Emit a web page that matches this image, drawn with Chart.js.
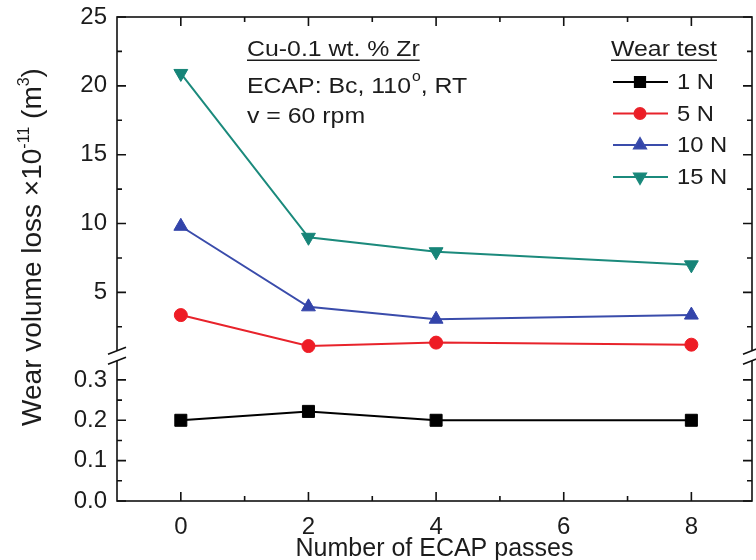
<!DOCTYPE html>
<html lang="en">
<head>
<meta charset="UTF-8" />
<title>Wear volume loss vs ECAP passes</title>
<script src="https://cdn.jsdelivr.net/npm/chart.js"></script>
<style>
  html, body { margin: 0; padding: 0; background: #fff; }
  #wrap { width: 756px; height: 560px; }
</style>
</head>
<body>
<div id="wrap"><canvas id="wearChart" width="756" height="560"></canvas></div>
<script>
// values (y in units of 1e-11 m^3)
const passes = [0, 2, 4, 8];
const load1N = [0.2, 0.222, 0.2, 0.2];
const load5N = [3.35, 1.1, 1.35, 1.2];
const load10N = [9.8, 3.95, 3.05, 3.35];
const load15N = [20.9, 9.0, 7.95, 7.0];
const seriesLabels = ["1 N", "5 N", "10 N", "15 N"];

const xTicks = [0, 2, 4, 6, 8];
const xMinor = [1, 3, 5, 7];
const yHighTicks = [5, 10, 15, 20, 25];
const yHighMinor = [2.5, 7.5, 12.5, 17.5, 22.5];
const yLowTicks = [0, 0.1, 0.2, 0.3];
const yLowMinor = [0.05, 0.15, 0.25];

const FONT = '"Liberation Sans", Arial, sans-serif';
const INK = "#1c1c1c";
const STRETCH = 1.13;

function pts(ys) {
  return passes.map((x, i) => ({ x: x, y: ys[i] }));
}

function wideText(ctx, text, x, y, sx) {
  ctx.save();
  ctx.translate(x, y);
  ctx.scale(sx, 1);
  ctx.fillText(text, 0, 0);
  ctx.restore();
  return ctx.measureText(text).width * sx;
}

// keep the plot box where the figure has it, whatever the labels need
function noPad(s) {
  s.paddingTop = 0; s.paddingBottom = 0; s.paddingLeft = 0; s.paddingRight = 0;
}

const decor = {
  id: "decor",
  afterDraw(chart) {
    const ctx = chart.ctx;
    const a = chart.chartArea;
    const sx = chart.scales.x, hi = chart.scales.yHigh, lo = chart.scales.yLow;
    ctx.save();
    ctx.strokeStyle = "#111";
    ctx.lineWidth = 1.6;
    ctx.strokeRect(a.left, a.top, a.right - a.left, a.bottom - a.top);

    // inward ticks on all four sides
    ctx.beginPath();
    const xt = (vals, len) => vals.forEach(v => {
      const p = sx.getPixelForValue(v);
      ctx.moveTo(p, a.bottom); ctx.lineTo(p, a.bottom - len);
      ctx.moveTo(p, a.top); ctx.lineTo(p, a.top + len);
    });
    const yt = (sc, vals, len) => vals.forEach(v => {
      const p = sc.getPixelForValue(v);
      ctx.moveTo(a.left, p); ctx.lineTo(a.left + len, p);
      ctx.moveTo(a.right, p); ctx.lineTo(a.right - len, p);
    });
    xt(xTicks, 9); xt(xMinor, 5);
    yt(hi, yHighTicks, 9); yt(hi, yHighMinor, 5);
    yt(lo, yLowTicks, 9); yt(lo, yLowMinor, 5);
    ctx.stroke();

    // axis break marks
    const b = hi.bottom;
    [a.left, a.right].forEach(x => {
      ctx.fillStyle = "#fff";
      ctx.fillRect(x - 3, b - 5, 6, 10);
      ctx.beginPath();
      [-5, 5].forEach(d => {
        ctx.moveTo(x - 9, b + d + 3.5);
        ctx.lineTo(x + 9, b + d - 3.5);
      });
      ctx.stroke();
    });

    ctx.fillStyle = INK;
    ctx.textBaseline = "alphabetic";

    // x title
    ctx.font = "25px " + FONT;
    ctx.textAlign = "center";
    ctx.fillText("Number of ECAP passes", (a.left + a.right) / 2, 556);

    // y title with superscripts
    ctx.save();
    ctx.translate(41, 247);
    ctx.rotate(-Math.PI / 2);
    ctx.textAlign = "left";
    const parts = [["Wear volume loss \u00d710", 28, 0], ["-11", 16, -12], [" (m", 28, 0], ["3", 16, -12], [")", 28, 0]];
    let total = 0;
    parts.forEach(p => { ctx.font = p[1] + "px " + FONT; total += ctx.measureText(p[0]).width; });
    let cx = -total / 2;
    parts.forEach(p => {
      ctx.font = p[1] + "px " + FONT;
      ctx.fillText(p[0], cx, p[2]);
      cx += ctx.measureText(p[0]).width;
    });
    ctx.restore();

    // annotation block
    ctx.textAlign = "left";
    ctx.font = "22px " + FONT;
    const w1 = wideText(ctx, "Cu-0.1 wt. % Zr", 247, 56, STRETCH);
    ctx.fillRect(247, 59.5, w1, 1.5);
    let px = 247 + wideText(ctx, "ECAP: Bc, 110", 247, 93, STRETCH);
    ctx.font = "14px " + FONT;
    px += wideText(ctx, "o", px + 1, 81, STRETCH) + 1;
    ctx.font = "22px " + FONT;
    wideText(ctx, ", RT", px, 93, STRETCH);
    wideText(ctx, "v = 60 rpm", 247, 123, STRETCH);

    // legend
    const lw = wideText(ctx, "Wear test", 611, 56, STRETCH);
    ctx.fillRect(611, 59.5, lw, 1.5);
    const rows = [82, 113.5, 145, 177];
    chart.data.datasets.forEach((ds, i) => {
      const y = rows[i];
      ctx.strokeStyle = ds.borderColor;
      ctx.lineWidth = 2;
      ctx.beginPath();
      ctx.moveTo(613, y); ctx.lineTo(668, y);
      ctx.stroke();
      ctx.fillStyle = ds.backgroundColor;
      Chart.helpers.drawPoint(ctx, {
        pointStyle: ds.pointStyle, rotation: ds.pointRotation || 0,
        radius: ds.pointRadius * 0.85, borderWidth: 1
      }, 640, y);
      ctx.fillStyle = INK;
      ctx.font = "22px " + FONT;
      ctx.textBaseline = "middle";
      wideText(ctx, ds.label, 677, y + 1, 1.08);
      ctx.textBaseline = "alphabetic";
    });
    ctx.restore();
  }
};

const tickFont = { family: FONT, size: 24 };

new Chart(document.getElementById("wearChart"), {
  type: "line",
  data: {
    datasets: [
      { label: seriesLabels[0], data: pts(load1N), yAxisID: "yLow",
        borderColor: "#000", backgroundColor: "#000", pointStyle: "rect", pointRadius: 8.5 },
      { label: seriesLabels[1], data: pts(load5N), yAxisID: "yHigh",
        borderColor: "#e8232b", backgroundColor: "#ee1c25", pointStyle: "circle", pointRadius: 6.5 },
      { label: seriesLabels[2], data: pts(load10N), yAxisID: "yHigh",
        borderColor: "#3a4cab", backgroundColor: "#3344aa", pointStyle: "triangle", pointRadius: 8 },
      { label: seriesLabels[3], data: pts(load15N), yAxisID: "yHigh",
        borderColor: "#1b8a7c", backgroundColor: "#168478", pointStyle: "triangle", pointRotation: 180, pointRadius: 8 }
    ].map(d => Object.assign({ borderWidth: 2, pointBorderWidth: 1, pointBorderColor: d.backgroundColor, tension: 0 }, d))
  },
  options: {
    responsive: false,
    animation: false,
    devicePixelRatio: 1,
    layout: { autoPadding: false, padding: { top: 17, right: 4, left: 0, bottom: 0 } },
    plugins: { legend: { display: false }, tooltip: { enabled: false } },
    scales: {
      x: {
        type: "linear", min: -1, max: 8.95,
        afterBuildTicks: s => { s.ticks = xTicks.map(v => ({ value: v })); },
        afterFit: s => { s.height = 59; noPad(s); },
        ticks: { font: tickFont, color: INK, padding: 12, maxRotation: 0, autoSkip: false },
        grid: { display: false, drawTicks: false }, border: { display: false }
      },
      yLow: {
        type: "linear", position: "left", stack: "v", stackWeight: 145,
        min: 0, max: 0.36,
        afterBuildTicks: s => { s.ticks = yLowTicks.map(v => ({ value: v })); },
        afterFit: s => { s.width = 117; noPad(s); },
        ticks: { font: tickFont, color: INK, padding: 10, autoSkip: false, callback: v => v.toFixed(1) },
        grid: { display: false, drawTicks: false }, border: { display: false }
      },
      yHigh: {
        type: "linear", position: "left", stack: "v", stackWeight: 338,
        min: 0.4, max: 25,
        afterBuildTicks: s => { s.ticks = yHighTicks.map(v => ({ value: v })); },
        afterFit: s => { s.width = 117; noPad(s); },
        ticks: { font: tickFont, color: INK, padding: 10, autoSkip: false },
        grid: { display: false, drawTicks: false }, border: { display: false }
      }
    }
  },
  plugins: [decor]
});
</script>
</body>
</html>
